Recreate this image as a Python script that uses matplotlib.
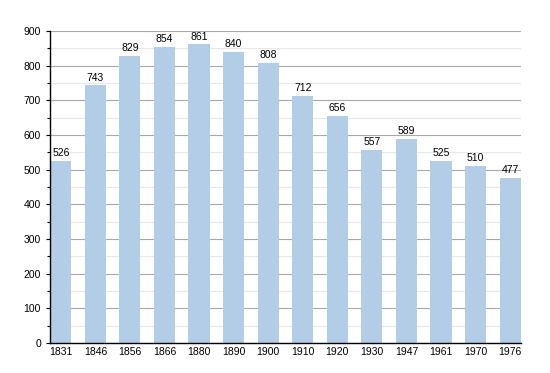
import numpy as np
import matplotlib.pyplot as plt
from matplotlib.ticker import MultipleLocator

years = ['1831', '1846', '1856', '1866', '1880', '1890', '1900', '1910',
         '1920', '1930', '1947', '1961', '1970', '1976']
population = [526, 743, 829, 854, 861, 840, 808, 712, 656, 557, 589, 525, 510, 477]

plt.rcParams['font.family'] = ['Liberation Sans', 'DejaVu Sans']

fig = plt.figure(figsize=(5.5, 3.73), dpi=100)
ax = fig.add_axes([0.091, 0.080, 0.856, 0.837])

x = np.arange(len(years))
ax.bar(x, population, width=0.61, color='#b3cde6', zorder=2)

for xi, v in zip(x, population):
    ax.text(xi, v + 8, str(v), ha='center', va='bottom', fontsize=7.5, color='black')

ax.set_xlim(-0.31, len(years) - 1 + 0.31)
ax.set_ylim(0, 900)
ax.set_xticks(x)
ax.set_xticklabels(years, fontsize=7.5)
ax.yaxis.set_major_locator(MultipleLocator(100))
ax.yaxis.set_minor_locator(MultipleLocator(50))
ax.tick_params(axis='y', labelsize=7.5, length=3, width=0.8)
ax.tick_params(axis='y', which='minor', length=2, width=0.8)
ax.tick_params(axis='x', length=0, pad=3)

ax.grid(axis='y', which='major', color='#a8a8a8', linewidth=0.8, zorder=0)
ax.grid(axis='y', which='minor', color='#e8e8e8', linewidth=0.8, zorder=0)

for s in ['top', 'right']:
    ax.spines[s].set_visible(False)
ax.spines['left'].set_linewidth(1)
ax.spines['bottom'].set_linewidth(1)

fig.savefig('out.png', dpi=100)
